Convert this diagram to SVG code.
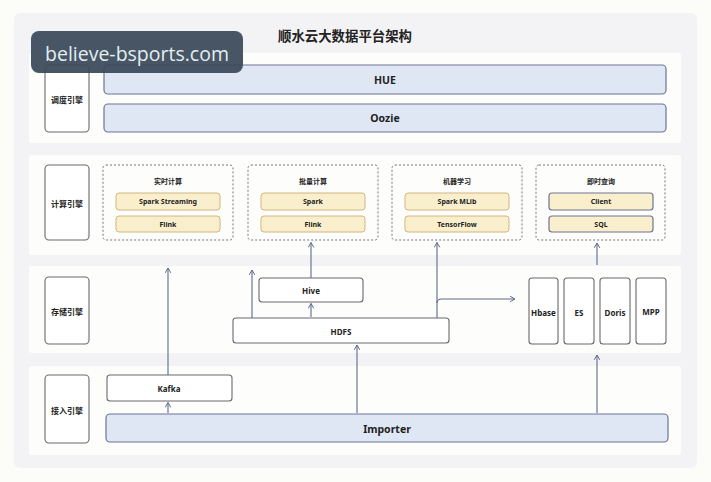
<svg xmlns="http://www.w3.org/2000/svg" width="711" height="482" viewBox="0 0 711 482">
<defs>
<marker id="ah" viewBox="0 0 10 10" refX="8" refY="5" markerWidth="7" markerHeight="7" orient="auto-start-reverse" markerUnits="userSpaceOnUse">
<path d="M1,1 L8,5 L1,9" fill="none" stroke="#5f6b8a" stroke-width="1.4"/>
</marker>
<style>
.panel{fill:#fdfdfc;}
.lab{fill:#ffffff;stroke:#6a6a6e;stroke-width:1.1;}
.bar{fill:#e0e7f4;stroke:#6d7595;stroke-width:1.2;}
.grp{fill:#fdfdfb;stroke:#77777a;stroke-width:1;stroke-dasharray:2 2;}
.tan{fill:#faefcd;stroke:#d2b67c;stroke-width:1;}
.tanb{fill:#faefcd;stroke:#6d7595;stroke-width:1.2;}
.box{fill:#ffffff;stroke:#6a6a6e;stroke-width:1.1;}
text{font-family:"Noto Sans","Noto Sans CJK SC",sans-serif;font-weight:bold;fill:#222;text-anchor:middle;dominant-baseline:central;}
.cn{font-size:8px;}
.sm{font-size:7px;}
.md{font-size:8px;}
.lg{font-size:10.5px;}
.conn line,.conn path{stroke:#5f6b8a;stroke-width:1.1;fill:none;}
</style>
</defs>
<rect width="711" height="482" fill="#fcfcf8"/>
<rect x="14" y="13" width="683" height="455" rx="6" fill="#f3f3f5"/>
<text x="345" y="35" style="font-size:13.4px;font-family:'Noto Sans CJK SC',sans-serif">顺水云大数据平台架构</text>

<rect class="panel" x="29" y="53" width="652" height="90" rx="3"/>
<rect class="panel" x="29" y="155" width="652" height="100" rx="3"/>
<rect class="panel" x="29" y="266" width="652" height="87" rx="3"/>
<rect class="panel" x="29" y="366" width="652" height="89" rx="3"/>

<g id="layer-schedule">
<rect class="lab" x="45" y="65" width="44" height="67" rx="4"/>
<text class="cn" x="67" y="99">调度引擎</text>
</g>
<g id="hue"><rect class="bar" x="104" y="65" width="562" height="29" rx="4"/><text class="lg" x="385" y="80">HUE</text></g>
<g id="oozie"><rect class="bar" x="104" y="104" width="562" height="28" rx="4"/><text class="lg" x="385" y="118">Oozie</text></g>

<g id="layer-compute">
<rect class="lab" x="45" y="165" width="44" height="75" rx="4"/>
<text class="cn" x="67" y="203">计算引擎</text>
</g>
<g id="realtime">
<rect class="grp" x="103" y="165" width="130" height="75" rx="3"/>
<text class="sm" x="168" y="181">实时计算</text>
<rect class="tan" x="116" y="193" width="104" height="17" rx="3"/><text class="sm" x="168" y="201.5">Spark Streaming</text>
<rect class="tan" x="116" y="216" width="104" height="16" rx="3"/><text class="sm" x="168" y="224">Flink</text>
</g>
<g id="batch">
<rect class="grp" x="248" y="165" width="130" height="75" rx="3"/>
<text class="sm" x="313" y="181">批量计算</text>
<rect class="tan" x="261" y="193" width="104" height="17" rx="3"/><text class="sm" x="313" y="201.5">Spark</text>
<rect class="tan" x="261" y="216" width="104" height="16" rx="3"/><text class="sm" x="313" y="224">Flink</text>
</g>
<g id="ml">
<rect class="grp" x="392" y="165" width="130" height="75" rx="3"/>
<text class="sm" x="457" y="181">机器学习</text>
<rect class="tan" x="405" y="193" width="104" height="17" rx="3"/><text class="sm" x="457" y="201.5">Spark MLib</text>
<rect class="tan" x="405" y="216" width="104" height="16" rx="3"/><text class="sm" x="457" y="224">TensorFlow</text>
</g>
<g id="query">
<rect class="grp" x="536" y="165" width="129" height="75" rx="3"/>
<text class="sm" x="601" y="181">即时查询</text>
<rect class="tanb" x="549" y="193" width="104" height="17" rx="3"/><text class="sm" x="601" y="201.5">Client</text>
<rect class="tanb" x="549" y="216" width="104" height="16" rx="3"/><text class="sm" x="601" y="224">SQL</text>
</g>

<g id="layer-storage">
<rect class="lab" x="45" y="277" width="44" height="67" rx="4"/>
<text class="cn" x="67" y="311">存储引擎</text>
</g>
<g id="hive"><rect class="box" x="259" y="278" width="104" height="24" rx="3"/><text class="md" x="311" y="290">Hive</text></g>
<g id="hdfs"><rect class="box" x="233" y="318" width="216" height="25" rx="3"/><text class="md" x="341" y="331">HDFS</text></g>
<g id="hbase"><rect class="box" x="529" y="278" width="29" height="66" rx="3"/><text class="md" x="543.5" y="312">Hbase</text></g>
<g id="es"><rect class="box" x="564" y="278" width="30" height="66" rx="3"/><text class="md" x="579" y="312">ES</text></g>
<g id="doris"><rect class="box" x="600" y="278" width="30" height="66" rx="3"/><text class="md" x="615" y="312">Doris</text></g>
<g id="mpp"><rect class="box" x="636" y="278" width="30" height="66" rx="3"/><text class="md" x="651" y="311">MPP</text></g>

<g id="layer-ingest">
<rect class="lab" x="45" y="375" width="44" height="68" rx="4"/>
<text class="cn" x="67" y="410">接入引擎</text>
</g>
<g id="kafka"><rect class="box" x="107" y="375" width="125" height="26" rx="3"/><text class="md" x="169" y="388">Kafka</text></g>
<g id="importer"><rect class="bar" x="106" y="414" width="562" height="28" rx="4"/><text class="lg" x="387" y="429">Importer</text></g>

<g class="conn" id="connectors">
<line x1="168" y1="413" x2="168" y2="402.5" marker-end="url(#ah)"/>
<line x1="168" y1="375" x2="168" y2="268" marker-end="url(#ah)"/>
<line x1="311" y1="317" x2="311" y2="303.5" marker-end="url(#ah)"/>
<line x1="252" y1="318" x2="252" y2="270" marker-end="url(#ah)"/>
<line x1="311" y1="278" x2="311" y2="242.5" marker-end="url(#ah)"/>
<line x1="437" y1="318" x2="437" y2="242.5" marker-end="url(#ah)"/>
<path d="M437,303 Q437,299 442,299 L515,299" marker-end="url(#ah)"/>
<line x1="357" y1="413" x2="357" y2="345" marker-end="url(#ah)"/>
<line x1="597" y1="413" x2="597" y2="355" marker-end="url(#ah)"/>
<line x1="597" y1="265" x2="597" y2="243" marker-end="url(#ah)"/>
</g>

<g id="watermark">
<rect x="31" y="31" width="212" height="42" rx="8" fill="#3a4859" opacity="0.93"/>
<text x="137" y="53" style="font-family:'Open Sans',sans-serif;font-weight:normal;font-size:19.5px;fill:#e2eff0">believe-bsports.com</text>
</g>
</svg>
